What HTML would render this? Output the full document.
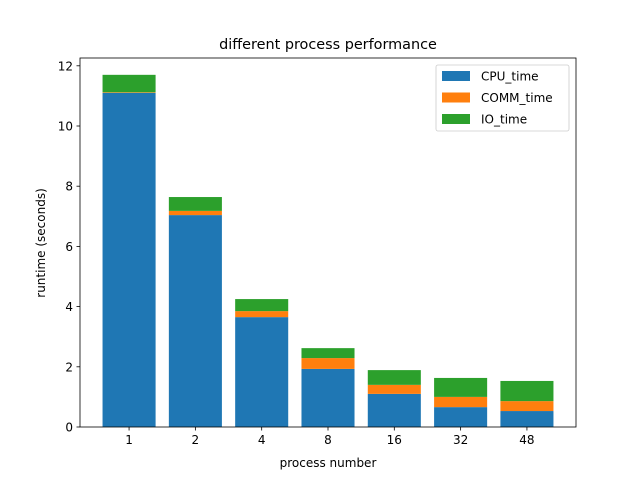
<!DOCTYPE html>
<html><head><meta charset="utf-8"><style>
body{margin:0;background:#fff;font-family:"Liberation Sans","DejaVu Sans",sans-serif}
</style></head><body>
<svg id="c" width="640" height="480" xmlns="http://www.w3.org/2000/svg" font-family="DejaVu Sans, Liberation Sans, sans-serif"></svg>
<script>
const categories=["1","2","4","8","16","32","48"];
const cpuTime=[11.1,7.04,3.65,1.93,1.1,0.66,0.53];
const commTime=[0.02,0.14,0.2,0.36,0.3,0.34,0.33];
const ioTime=[0.58,0.46,0.4,0.33,0.49,0.63,0.67];
const yTicks=[0,2,4,6,8,10,12];
const svg=document.getElementById('c');
const NS='http://www.w3.org/2000/svg';
const L=80,R=576,T=58,B=427;
const xmin=-0.74,xmax=categories.length-1+0.74;
const x=i=>L+(i-xmin)/(xmax-xmin)*(R-L);
const y=v=>B-v*30.1;
function el(t,a,txt){const e=document.createElementNS(NS,t);for(const k in a)e.setAttribute(k,a[k]);if(txt!==undefined)e.textContent=txt;svg.appendChild(e);return e;}
const bw=0.8*(R-L)/(xmax-xmin);
const series=[["cpu",cpuTime,"#1f77b4"],["comm",commTime,"#ff7f0e"],["io",ioTime,"#2ca02c"]];
categories.forEach((c,i)=>{let base=0;series.forEach(s=>{const v=s[1][i];
const r=el('rect',{x:x(i)-bw/2,y:y(base+v),width:bw,height:y(base)-y(base+v),fill:s[2]});


base+=v;});
const t=el('line',{x1:x(i),x2:x(i),y1:B,y2:B+3.5,stroke:'#000','stroke-width':0.8});


const tl=el('text',{x:x(i),y:B+17,'text-anchor':'middle','font-size':12},c);


});
yTicks.forEach(v=>{
const t=el('line',{x1:L-3.5,x2:L,y1:y(v),y2:y(v),stroke:'#000','stroke-width':0.8});


const tl=el('text',{x:L-7,y:y(v)+4.5,'text-anchor':'end','font-size':12},v);


});
const f=el('rect',{x:L,y:T,width:R-L,height:B-T,fill:'none',stroke:'#000','stroke-width':0.8});


const ti=el('text',{x:328,y:49,'text-anchor':'middle','font-size':14.4},'different process performance');


const xl=el('text',{x:328,y:467,'text-anchor':'middle','font-size':12},'process number');


const yl=el('text',{x:0,y:0,'text-anchor':'middle','font-size':12,transform:'translate(45,243) rotate(-90)'},'runtime (seconds)');


const lg=el('rect',{x:436,y:65,width:133,height:66,rx:2,fill:'#fff','fill-opacity':0.8,stroke:'#ccc','stroke-width':0.8});


[["CPU_time","#1f77b4"],["COMM_time","#ff7f0e"],["IO_time","#2ca02c"]].forEach((s,k)=>{
const yy=76+k*21.5;
const sw=el('rect',{x:442,y:yy-5,width:28,height:10,fill:s[1]});


const lt=el('text',{x:481,y:yy+4.5,'font-size':12},s[0]);


});
</script>
</body></html>
